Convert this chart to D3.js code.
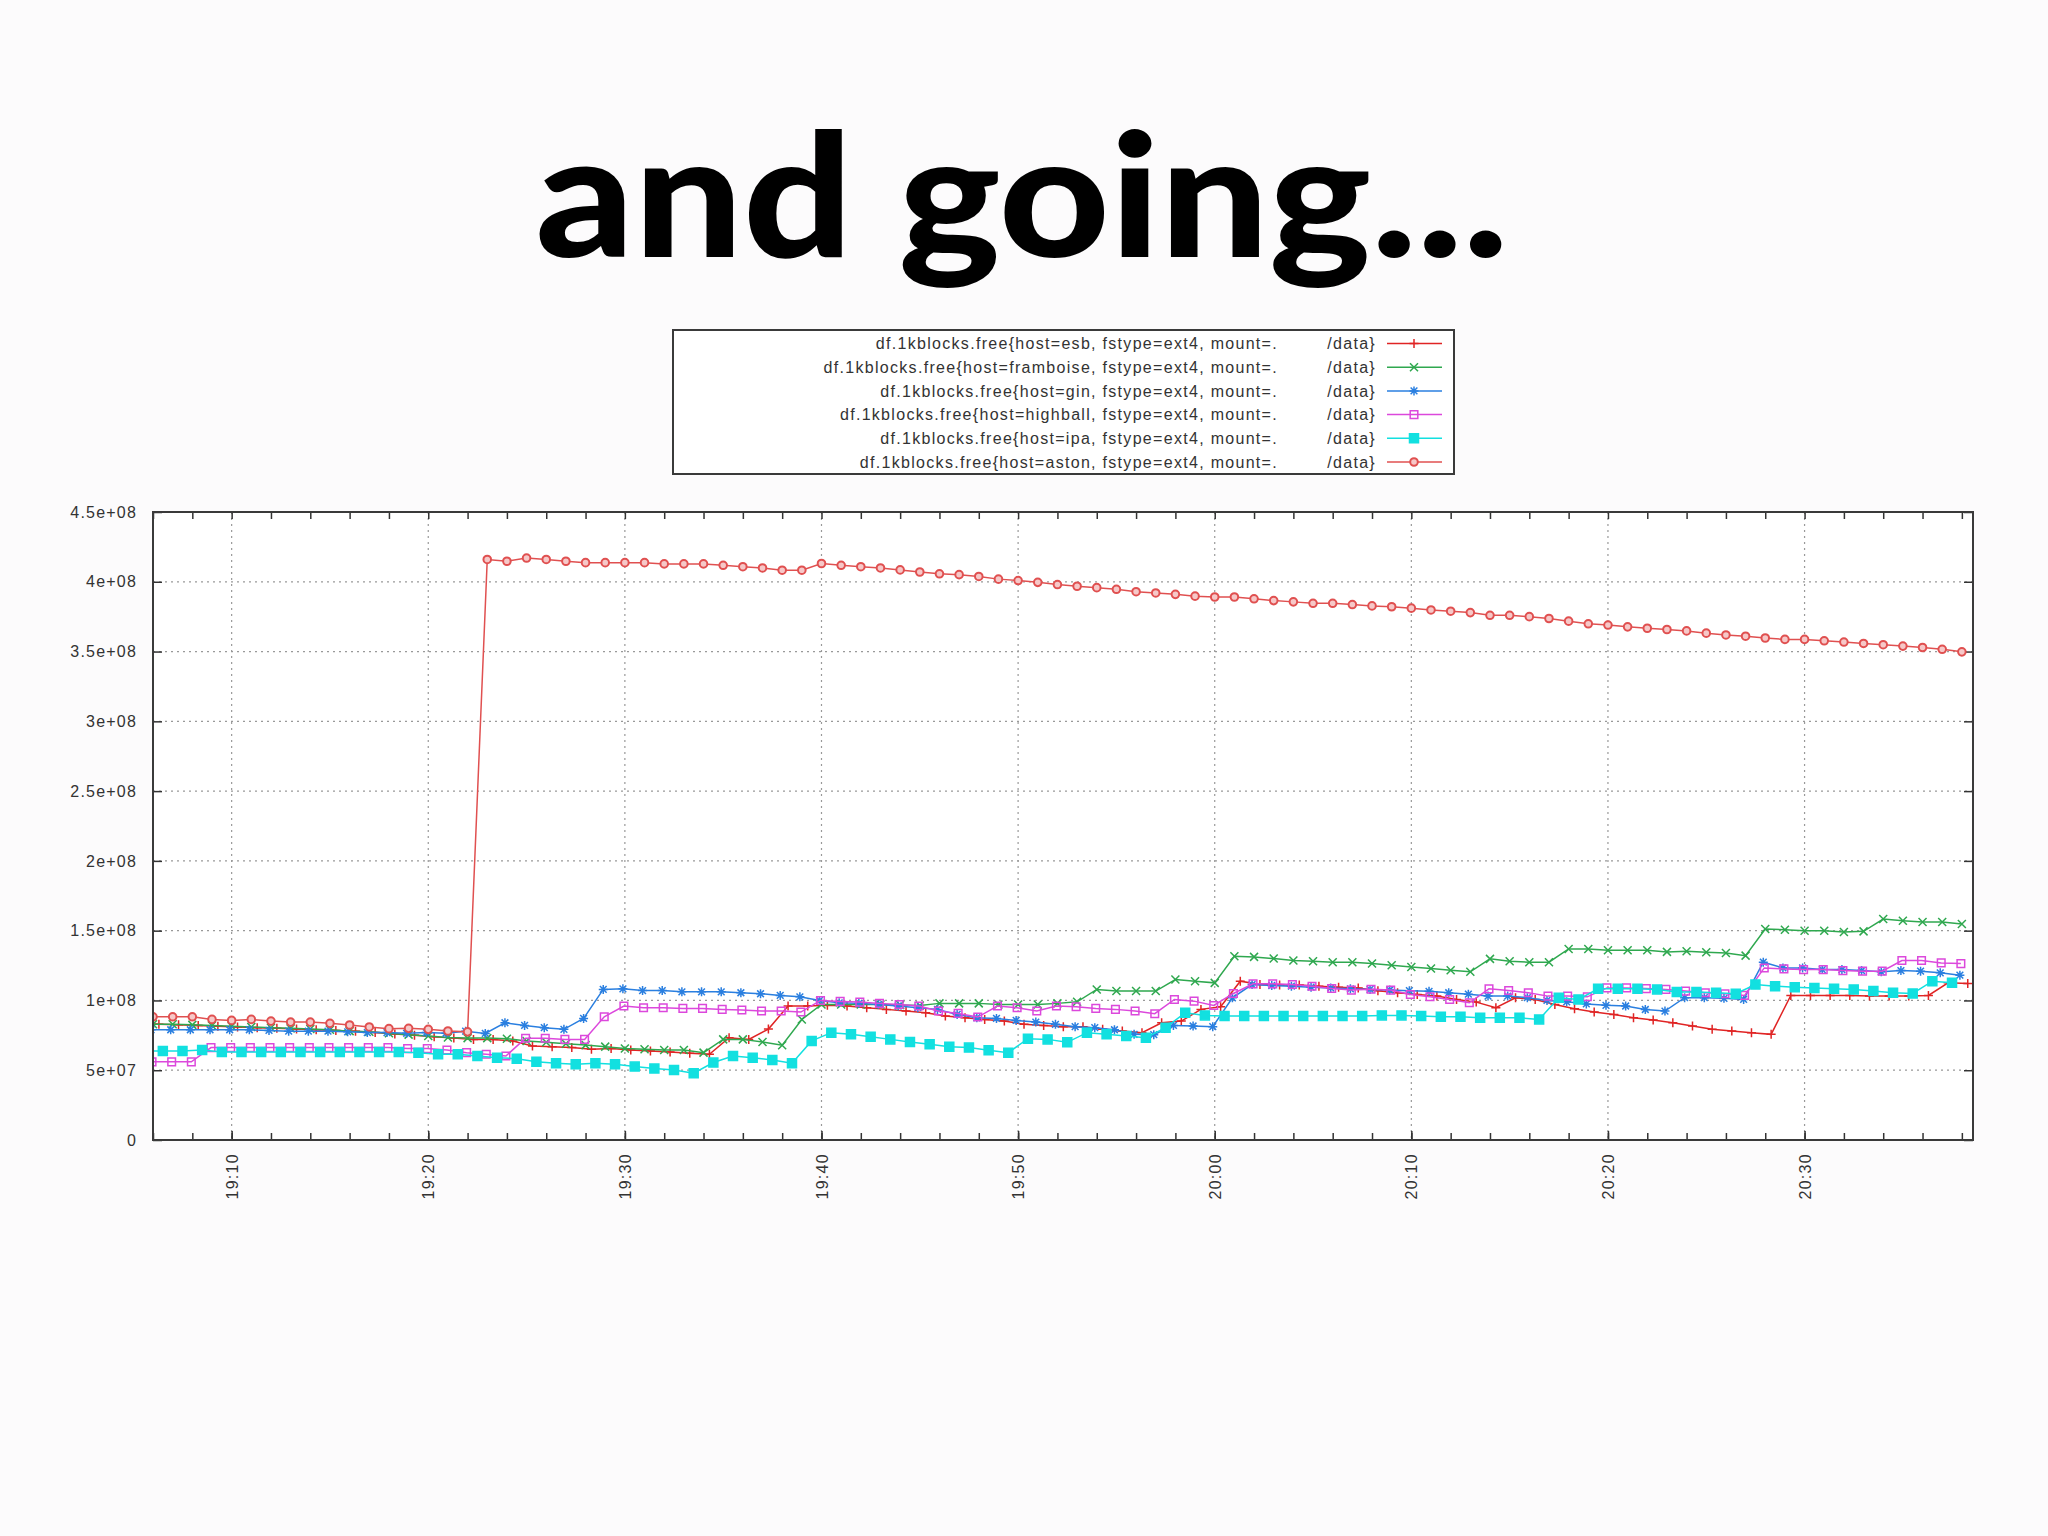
<!DOCTYPE html>
<html>
<head>
<meta charset="utf-8">
<script src="https://cdn.jsdelivr.net/npm/d3@7"></script>
<style>
body { margin: 0; background: #fcfbfc; }
text { font-family: "Liberation Sans", Arial, sans-serif; }
</style>
</head>
<body>
<script>

// free 1k blocks on /data, one sample per minute, values in units of 1e8
var UNIT = 1e8;

var hosts = ['esb', 'framboise', 'gin', 'highball', 'ipa', 'aston'];
var starts = ['19:05:18', '19:06:00', '19:05:54', '19:05:57', '19:05:30', '19:06:00'];

var esb = [0.835,
    0.83, 0.825, 0.82, 0.815, 0.81, 0.805, 0.8, 0.795, 0.79, 0.785,
    0.78, 0.77, 0.76, 0.75, 0.74, 0.73, 0.721, 0.72, 0.71, 0.674,
    0.669, 0.662, 0.65, 0.655, 0.645, 0.638, 0.631, 0.621, 0.614, 0.733,
    0.721, 0.795, 0.96, 0.96, 0.965, 0.96, 0.948, 0.936, 0.924, 0.912,
    0.888, 0.876, 0.864, 0.852, 0.829, 0.821, 0.812, 0.812, 0.793, 0.781,
    0.769, 0.84, 0.852, 0.936, 0.955, 1.138, 1.114, 1.11, 1.11, 1.102,
    1.095, 1.09, 1.07, 1.055, 1.043, 1.031, 1.007, 0.988, 0.948, 1.019,
    1.007, 0.971, 0.94, 0.917, 0.9, 0.876, 0.86, 0.84, 0.817, 0.793,
    0.781, 0.769, 0.757, 1.036, 1.036, 1.036, 1.036, 1.031, 1.031, 1.031,
    1.036, 1.126, 1.121];

var framboise = [
    0.83, 0.83, 0.825, 0.82, 0.815, 0.81, 0.805, 0.8, 0.795, 0.79,
    0.78, 0.775, 0.765, 0.755, 0.745, 0.735, 0.73, 0.73, 0.726, 0.71,
    0.7, 0.69, 0.68, 0.669, 0.655, 0.65, 0.645, 0.645, 0.626, 0.721,
    0.721, 0.702, 0.679, 0.864, 0.971, 0.971, 0.971, 0.971, 0.967, 0.964,
    0.979, 0.979, 0.979, 0.971, 0.971, 0.971, 0.979, 0.99, 1.079, 1.067,
    1.067, 1.067, 1.15, 1.138, 1.126, 1.317, 1.312, 1.3, 1.286, 1.281,
    1.274, 1.274, 1.265, 1.252, 1.24, 1.229, 1.217, 1.205, 1.298, 1.281,
    1.274, 1.274, 1.369, 1.369, 1.36, 1.36, 1.36, 1.348, 1.352, 1.345,
    1.34, 1.321, 1.512, 1.507, 1.5, 1.5, 1.49, 1.495, 1.583, 1.571,
    1.562, 1.562, 1.548];

var gin = [0.79,
    0.79, 0.79, 0.79, 0.79, 0.79, 0.785, 0.78, 0.78, 0.78, 0.775,
    0.77, 0.77, 0.765, 0.77, 0.765, 0.78, 0.764, 0.84, 0.821, 0.805,
    0.793, 0.871, 1.079, 1.083, 1.071, 1.071, 1.062, 1.062, 1.062, 1.055,
    1.048, 1.036, 1.026, 1.0, 0.983, 0.979, 0.971, 0.96, 0.948, 0.936,
    0.9, 0.876, 0.871, 0.857, 0.845, 0.829, 0.812, 0.805, 0.79, 0.757,
    0.755, 0.821, 0.817, 0.812, 1.019, 1.114, 1.107, 1.102, 1.095, 1.09,
    1.083, 1.079, 1.075, 1.07, 1.065, 1.055, 1.045, 1.031, 1.031, 1.02,
    1.0, 0.99, 0.975, 0.965, 0.96, 0.935, 0.924, 1.02, 1.02, 1.015,
    1.007, 1.274, 1.233, 1.233, 1.221, 1.221, 1.214, 1.205, 1.214, 1.21,
    1.198, 1.181];

var highball = [
    0.56, 0.56, 0.56, 0.662, 0.662, 0.662, 0.662, 0.662, 0.662, 0.662,
    0.662, 0.662, 0.662, 0.655, 0.655, 0.645, 0.626, 0.614, 0.602, 0.729,
    0.729, 0.721, 0.721, 0.883, 0.96, 0.948, 0.948, 0.943, 0.943, 0.936,
    0.931, 0.924, 0.924, 0.917, 1.0, 0.993, 0.988, 0.979, 0.971, 0.96,
    0.924, 0.907, 0.881, 0.96, 0.948, 0.924, 0.96, 0.955, 0.943, 0.936,
    0.924, 0.905, 1.007, 0.995, 0.964, 1.05, 1.119, 1.119, 1.114, 1.102,
    1.086, 1.074, 1.08, 1.074, 1.043, 1.026, 1.007, 0.983, 1.083, 1.071,
    1.055, 1.031, 1.031, 1.026, 1.09, 1.09, 1.085, 1.079, 1.067, 1.055,
    1.048, 1.036, 1.233, 1.226, 1.221, 1.221, 1.214, 1.21, 1.21, 1.286,
    1.286, 1.269, 1.264];

var ipa = [0.638,
    0.638, 0.638, 0.645, 0.631, 0.631, 0.631, 0.631, 0.631, 0.631, 0.631,
    0.631, 0.631, 0.631, 0.626, 0.614, 0.614, 0.602, 0.59, 0.583, 0.56,
    0.55, 0.543, 0.55, 0.543, 0.526, 0.512, 0.502, 0.479, 0.555, 0.602,
    0.59, 0.574, 0.55, 0.71, 0.769, 0.757, 0.74, 0.721, 0.702, 0.686,
    0.669, 0.662, 0.643, 0.626, 0.726, 0.721, 0.7, 0.769, 0.757, 0.745,
    0.733, 0.805, 0.912, 0.893, 0.888, 0.888, 0.888, 0.888, 0.888, 0.888,
    0.888, 0.888, 0.893, 0.893, 0.888, 0.883, 0.883, 0.876, 0.876, 0.876,
    0.864, 1.019, 1.007, 1.083, 1.083, 1.083, 1.079, 1.06, 1.06, 1.055,
    1.048, 1.114, 1.102, 1.095, 1.09, 1.083, 1.079, 1.067, 1.055, 1.05,
    1.138, 1.126];

var aston = [
    0.883, 0.883, 0.883, 0.864, 0.857, 0.864, 0.852, 0.845, 0.845, 0.836,
    0.824, 0.81, 0.798, 0.8, 0.793, 0.781, 0.775, 4.16, 4.147, 4.17,
    4.16, 4.147, 4.137, 4.137, 4.137, 4.137, 4.128, 4.128, 4.128, 4.118,
    4.108, 4.099, 4.083, 4.083, 4.131, 4.118, 4.108, 4.099, 4.085, 4.07,
    4.057, 4.051, 4.038, 4.019, 4.009, 3.996, 3.98, 3.968, 3.958, 3.946,
    3.929, 3.92, 3.91, 3.897, 3.891, 3.891, 3.878, 3.865, 3.856, 3.846,
    3.846, 3.837, 3.827, 3.821, 3.811, 3.798, 3.789, 3.779, 3.76, 3.76,
    3.75, 3.737, 3.718, 3.699, 3.69, 3.677, 3.667, 3.658, 3.648, 3.632,
    3.619, 3.61, 3.597, 3.587, 3.587, 3.577, 3.568, 3.558, 3.549, 3.539,
    3.529, 3.516, 3.498];

var seriesValues = [esb, framboise, gin, highball, ipa, aston];

var yTicks = [0, 5e7, 1e8, 1.5e8, 2e8, 2.5e8, 3e8, 3.5e8, 4e8, 4.5e8];
var yTickLabels = ['0', '5e+07', '1e+08', '1.5e+08', '2e+08', '2.5e+08', '3e+08', '3.5e+08', '4e+08', '4.5e+08'];
var xTickLabels = ['19:10', '19:20', '19:30', '19:40', '19:50', '20:00', '20:10', '20:20', '20:30'];
var xDomain = ['19:06:00', '20:38:34'];

// styles, in gnuplot order
var colors = ['#e02424', '#2fa84f', '#2a7fe0', '#dc48dc', '#12e0e0', '#e05050'];
var markers = ['plus', 'cross', 'star', 'box', 'fbox', 'circle'];

var parseTime = d3.timeParse('%H:%M:%S');

var series = hosts.map(function(h, i) {
    var t0 = parseTime(starts[i]).getTime();
    return {
        host: h,
        color: colors[i],
        marker: markers[i],
        points: seriesValues[i].map(function(v, j) {
            return {t: new Date(t0 + j * 60000), v: v * UNIT};
        })
    };
});

function markerPath(type, s) {
    if (type == 'plus') return 'M' + (-s) + ',0H' + s + 'M0,' + (-s) + 'V' + s;
    if (type == 'cross') return 'M' + (-s) + ',' + (-s) + 'L' + s + ',' + s + 'M' + (-s) + ',' + s + 'L' + s + ',' + (-s);
    if (type == 'star') {
        var d = s * 0.75;
        return 'M' + (-s) + ',0H' + s + 'M0,' + (-s) + 'V' + s +
            'M' + (-d) + ',' + (-d) + 'L' + d + ',' + d + 'M' + (-d) + ',' + d + 'L' + d + ',' + (-d);
    }
    if (type == 'box' || type == 'fbox') return 'M' + (-s) + ',' + (-s) + 'H' + s + 'V' + s + 'H' + (-s) + 'Z';
    // circle
    return 'M' + (-s) + ',0A' + s + ',' + s + ' 0 1,0 ' + s + ',0A' + s + ',' + s + ' 0 1,0 ' + (-s) + ',0Z';
}

function drawMarker(sel, type, color) {
    var size = {plus: 4.5, cross: 4, star: 4.5, box: 3.8, fbox: 4.5, circle: 3.8}[type];
    sel.append('path')
        .attr('d', markerPath(type, size))
        .attr('fill', type == 'fbox' ? color : (type == 'circle' ? '#f6c8c8' : 'none'))
        .attr('stroke', color)
        .attr('stroke-width', type == 'circle' ? 2 : 1.5);
}

var svg = d3.select('body').append('svg')
    .attr('width', 2048)
    .attr('height', 1536);

svg.append('rect')
    .attr('width', 2048)
    .attr('height', 1536)
    .attr('fill', '#fcfbfc');

// title
svg.append('text')
    .attr('x', 1022)
    .attr('y', 257)
    .attr('text-anchor', 'middle')
    .attr('textLength', 973)
    .attr('lengthAdjust', 'spacingAndGlyphs')
    .style('font-family', 'Lato, "Liberation Sans", sans-serif')
    .style('font-weight', 900)
    .style('font-size', '172px')
    .attr('fill', '#000')
    .text('and going...');

// Set the dimensions of the plot
var margin = {top: 512, right: 75, bottom: 396, left: 153},
    width = 2048 - margin.left - margin.right,
    height = 1536 - margin.top - margin.bottom;

var x = d3.scaleTime().domain(xDomain.map(parseTime)).range([0, width]);
var y = d3.scaleLinear().domain([0, 4.5e8]).range([height, 0]);

var majorTicks = xTickLabels.map(function(s) { return parseTime(s + ':00'); });
var minorTicks = d3.timeMinute.every(2).range(x.domain()[0], x.domain()[1]);

var focus = svg.append('g')
    .attr('transform', 'translate(' + margin.left + ',' + margin.top + ')');

focus.append('rect')
    .attr('width', width)
    .attr('height', height)
    .attr('fill', '#ffffff');

// dotted grid
var grid = focus.append('g')
    .attr('stroke', '#999')
    .attr('stroke-width', 1.2)
    .attr('stroke-dasharray', '2,4');

grid.selectAll('.gy')
    .data(yTicks.slice(1, -1))
    .enter().append('line')
    .attr('x1', 0).attr('x2', width)
    .attr('y1', function(d) { return y(d); })
    .attr('y2', function(d) { return y(d); });

grid.selectAll('.gx')
    .data(majorTicks)
    .enter().append('line')
    .attr('y1', 0).attr('y2', height)
    .attr('x1', function(d) { return x(d); })
    .attr('x2', function(d) { return x(d); });

// axes with inward ticks, mirrored on top and right
var yAxis = d3.axisLeft(y)
    .tickValues(yTicks)
    .tickFormat(function(d, i) { return yTickLabels[i]; })
    .tickSize(-9);

var gy = focus.append('g').attr('class', 'axis axis--y').call(yAxis);
gy.selectAll('text')
    .attr('x', -16)
    .style('font-size', '16px')
    .style('letter-spacing', '1.2px')
    .attr('fill', '#333');

focus.append('g')
    .attr('transform', 'translate(' + width + ',0)')
    .call(d3.axisRight(y).tickValues(yTicks).tickFormat('').tickSize(-9));

var xAxis = d3.axisBottom(x)
    .tickValues(majorTicks)
    .tickFormat(function(d, i) { return xTickLabels[i]; })
    .tickSize(-9);

var gx = focus.append('g')
    .attr('class', 'axis axis--x')
    .attr('transform', 'translate(0,' + height + ')')
    .call(xAxis);
gx.selectAll('text')
    .attr('transform', 'rotate(-90)')
    .attr('x', -13)
    .attr('y', 0)
    .attr('dy', '0.35em')
    .style('text-anchor', 'end')
    .style('font-size', '16px')
    .style('letter-spacing', '1.3px')
    .attr('fill', '#333');

focus.append('g')
    .attr('transform', 'translate(0,' + height + ')')
    .call(d3.axisBottom(x).tickValues(minorTicks).tickFormat('').tickSize(-7));
focus.append('g')
    .call(d3.axisTop(x).tickValues(minorTicks).tickFormat('').tickSize(-7));

focus.selectAll('.domain').remove();
focus.selectAll('.tick line').attr('stroke', '#333').attr('stroke-width', 1.5);

// plot clip
svg.append('clipPath')
    .attr('id', 'plotclip')
    .append('rect')
    .attr('width', width)
    .attr('height', height);

var plot = focus.append('g').attr('clip-path', 'url(#plotclip)');

var line = d3.line()
    .x(function(d) { return x(d.t); })
    .y(function(d) { return y(d.v); });

series.forEach(function(s) {
    var g = plot.append('g');
    g.append('path')
        .datum(s.points)
        .attr('fill', 'none')
        .attr('stroke', s.color)
        .attr('stroke-width', 1.5)
        .attr('d', line);
    g.selectAll('g.pt')
        .data(s.points)
        .enter().append('g')
        .attr('transform', function(d) { return 'translate(' + x(d.t) + ',' + y(d.v) + ')'; })
        .each(function() { drawMarker(d3.select(this), s.marker, s.color); });
});

// frame
focus.append('rect')
    .attr('width', width)
    .attr('height', height)
    .attr('fill', 'none')
    .attr('stroke', '#3a3a3a')
    .attr('stroke-width', 2);

// legend
var legend = svg.append('g');
legend.append('rect')
    .attr('x', 673)
    .attr('y', 330)
    .attr('width', 781)
    .attr('height', 144)
    .attr('fill', '#ffffff')
    .attr('stroke', '#3a3a3a')
    .attr('stroke-width', 2);

var row = legend.selectAll('g.row')
    .data(series)
    .enter().append('g')
    .attr('transform', function(d, i) { return 'translate(0,' + (343.5 + i * 23.7) + ')'; });

row.append('text')
    .attr('x', 1278)
    .attr('dy', '0.35em')
    .attr('text-anchor', 'end')
    .style('font-size', '16px')
    .style('letter-spacing', '1.3px')
    .attr('fill', '#333')
    .text(function(d) { return 'df.1kblocks.free{host=' + d.host + ', fstype=ext4, mount=.'; });

row.append('text')
    .attr('x', 1376)
    .attr('dy', '0.35em')
    .attr('text-anchor', 'end')
    .style('font-size', '16px')
    .style('letter-spacing', '1.3px')
    .attr('fill', '#333')
    .text('/data}');

row.append('line')
    .attr('x1', 1387)
    .attr('x2', 1442)
    .attr('stroke', function(d) { return d.color; })
    .attr('stroke-width', 1.5);

row.append('g')
    .attr('transform', 'translate(1414,0)')
    .each(function(d) { drawMarker(d3.select(this), d.marker, d.color); });

</script>
